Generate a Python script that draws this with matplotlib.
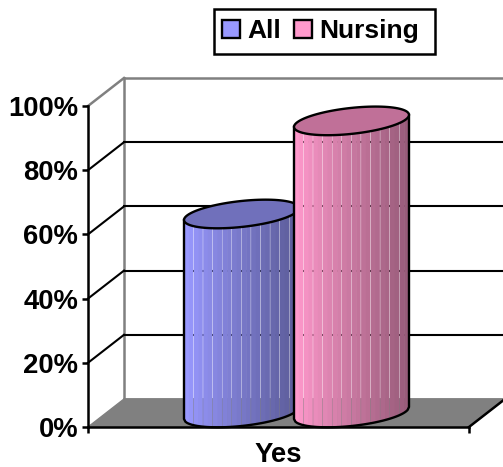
import numpy as np
import matplotlib
matplotlib.use('Agg')
import matplotlib.pyplot as plt
from matplotlib.patches import Polygon, Patch, Rectangle

categories = ['Yes']
series = ['All', 'Nursing']
values = [62, 91]
body_colors = ['#9999FF', '#FF99CC']
top_colors = ['#7070BB', '#C07098']
yticks = [0, 20, 40, 60, 80, 100]
ytick_labels = ['0%', '20%', '40%', '60%', '80%', '100%']

plt.rcParams['font.family'] = ['Liberation Sans', 'DejaVu Sans']
plt.rcParams['font.weight'] = 'bold'
plt.rcParams['font.size'] = 19.8

W, H = 503, 467
L, R, T, B = 88, 469, 106, 427
fig = plt.figure(figsize=(W / 100, H / 100), dpi=100)
ax = fig.add_axes([L / W, 1 - B / H, (R - L) / W, (B - T) / H])
ax.set_xlim(0, 1)
ax.set_ylim(0, 100)

# depth of the fake 3d box, in data units
px = 1 / (R - L)
py = 100 / (B - T)
dx = 36 * px
dy = 28 * py
gray = '#808080'


def shade(col, f):
    rgb = np.array(matplotlib.colors.to_rgb(col))
    return rgb * f


# floor
ax.add_patch(Polygon([(0, 0), (1, 0), (1 + dx, dy), (dx, dy)], fc=gray, ec=gray, lw=1, clip_on=False, zorder=1))
ax.plot([1, 1 + dx], [0, dy], color='black', lw=1.8, clip_on=False, zorder=2)

# walls
ax.plot([0, dx], [100, 100 + dy], color=gray, lw=1.8, clip_on=False, zorder=1)
ax.plot([dx, dx], [dy, 100 + dy], color=gray, lw=1.8, clip_on=False, zorder=1)
ax.plot([dx, 1.2], [100 + dy, 100 + dy], color=gray, lw=1.8, clip_on=False, zorder=1)
ax.plot([dx, 1.2], [dy, dy], color=gray, lw=1.8, clip_on=False, zorder=1)
for v in yticks[1:-1]:
    ax.plot([0, dx], [v, v + dy], color='black', lw=1.5, clip_on=False, zorder=1)
    ax.plot([dx, 1.2], [v + dy, v + dy], color='black', lw=1.5, clip_on=False, zorder=1)

# cylinders
a = 57.5 * px
b = 13 * py
tilt = 6 * py
centers = [0.5 - 55 * px + dx / 2, 0.5 + 55 * px + dx / 2]
t = np.linspace(0, 2 * np.pi, 100)
for i, v in enumerate(values):
    cx = centers[i]
    y0 = dy / 2
    y1 = v + dy / 2
    n = 24
    edges = np.linspace(-1, 1, n + 1)
    for k in range(n):
        # every few strips leave a hair gap so what is behind shows through
        right = edges[k + 1] - 0.006 if k % 2 == 1 else edges[k + 1] + 0.01
        u = np.linspace(edges[k], min(right, 1), 6)
        low = y0 + tilt * u - b * np.sqrt(1 - u ** 2)
        up = y1 + tilt * u - b * np.sqrt(1 - u ** 2)
        f = 1 - 0.4 * (k / (n - 1)) ** 0.9
        ax.fill(np.r_[cx + a * u, cx + a * u[::-1]], np.r_[low, up[::-1]], color=shade(body_colors[i], f), lw=0,
                clip_on=False, zorder=3 + i)
    # outline
    u = np.linspace(-1, 1, 80)
    low = y0 + tilt * u - b * np.sqrt(1 - u ** 2)
    ax.plot(np.r_[cx - a, cx + a * u, cx + a], np.r_[y1 - tilt, low, y1 + tilt], color='black', lw=1.7,
            clip_on=False, zorder=3 + i)
    ax.fill(cx + a * np.cos(t), y1 + tilt * np.cos(t) + b * np.sin(t), fc=top_colors[i], ec='black', lw=1.7,
            clip_on=False, zorder=3 + i)

# axes
for s in ['top', 'right']:
    ax.spines[s].set_visible(False)
for s in ['left', 'bottom']:
    ax.spines[s].set_linewidth(1.8)
    ax.spines[s].set_zorder(6)
ax.patch.set_alpha(0)
ax.set_yticks(yticks, ytick_labels)
ax.tick_params(axis='y', length=4.5, width=1.8, pad=2.5)
ax.set_xticks([0.5], categories)
ax.tick_params(axis='x', which='major', length=0, pad=11)
ax.set_xticks([0, 1], minor=True)
ax.tick_params(axis='x', which='minor', length=4.5, width=1.8)

# legend, frame drawn apart because the original box is not centred on its content
fig.add_artist(Rectangle((214 / W, 1 - 54 / H), 221 / W, 45 / H, transform=fig.transFigure, fc='white', ec='black',
                         lw=1.8))
handles = [Patch(fc=c, ec='black', lw=1.7, label=s) for c, s in zip(body_colors, series)]
leg = fig.legend(handles=handles, ncol=2, loc='center', bbox_to_anchor=(320.5 / W, 1 - 31 / H), frameon=False,
                 fontsize=19, handlelength=0.68, handleheight=0.68, handletextpad=0.27,
                 columnspacing=0.5, borderpad=0, borderaxespad=0)

fig.savefig('out.png', dpi=100)
